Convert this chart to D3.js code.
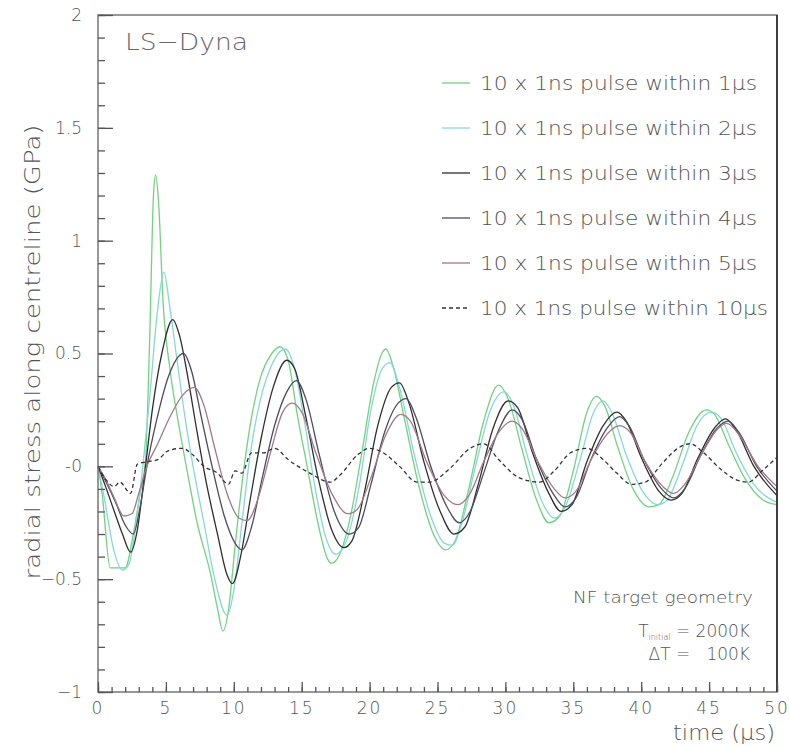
<!DOCTYPE html>
<html>
<head>
<meta charset="utf-8">
<script src="https://cdn.jsdelivr.net/npm/d3@7"></script>
<style>
  body { margin: 0; background: #fff; }
  text { font-family: "DejaVu Sans", "Liberation Sans", sans-serif; font-weight: 200; fill: #555; }
</style>
</head>
<body>
<div id="chart"></div>
<script>
// data: [time (us), radial stress (GPa)]
var pulse1us = [[0,0],[0.3,-0.12],[0.9,-0.45],[2.0,-0.45],[2.6,-0.3],[3.1,-0.12],[3.5,0.03],[3.8,0.55],[4.1,1.22],[4.25,1.29],[4.45,1.18],[4.8,0.72],[5.3,0.43],[5.9,0.2],[6.5,0.0],[7.3,-0.25],[8.3,-0.48],[8.8,-0.63],[9.2,-0.73],[9.6,-0.64],[10.1,-0.35],[10.7,-0.03],[11.2,0.18],[11.9,0.38],[12.8,0.5],[13.4,0.53],[14.0,0.47],[14.7,0.22],[15.4,0.0],[16.3,-0.28],[16.9,-0.41],[17.2,-0.43],[17.8,-0.39],[18.6,-0.22],[19.4,0.05],[20.3,0.37],[20.9,0.5],[21.2,0.52],[21.7,0.45],[22.6,0.2],[23.6,-0.08],[24.7,-0.3],[25.6,-0.37],[26.3,-0.33],[27.3,-0.1],[28.4,0.2],[29.5,0.36],[30.2,0.3],[31.2,0.08],[32.3,-0.15],[33.2,-0.25],[34.0,-0.22],[35.0,-0.02],[36.0,0.24],[36.7,0.31],[37.3,0.27],[38.3,0.08],[39.4,-0.1],[40.6,-0.18],[41.3,-0.17],[42.3,-0.05],[43.5,0.15],[44.8,0.25],[45.4,0.23],[46.4,0.1],[47.6,-0.05],[49.0,-0.15],[50,-0.17]];

var pulse2us = [[0,0],[0.4,-0.12],[1.2,-0.38],[1.8,-0.46],[2.3,-0.43],[2.8,-0.25],[3.3,0.0],[3.8,0.3],[4.4,0.7],[4.85,0.86],[5.3,0.7],[5.8,0.48],[6.4,0.22],[7.0,0.0],[7.8,-0.25],[8.6,-0.5],[9.5,-0.66],[10.0,-0.55],[10.6,-0.25],[11.2,0.05],[11.9,0.28],[12.8,0.45],[13.8,0.52],[14.4,0.45],[15.2,0.2],[16.0,-0.1],[16.8,-0.32],[17.5,-0.39],[18.3,-0.33],[19.2,-0.1],[20.1,0.25],[20.9,0.43],[21.5,0.46],[22.2,0.35],[23.3,0.05],[24.5,-0.22],[25.5,-0.34],[26.1,-0.35],[26.8,-0.25],[27.8,0.0],[28.9,0.25],[29.9,0.33],[30.6,0.27],[31.6,0.05],[32.8,-0.17],[33.6,-0.23],[34.4,-0.18],[35.5,0.03],[36.5,0.24],[37.2,0.29],[37.9,0.23],[38.9,0.05],[40.0,-0.1],[41.2,-0.17],[41.9,-0.15],[43.0,0.0],[44.1,0.18],[45.2,0.24],[45.9,0.21],[47.0,0.06],[48.3,-0.08],[50,-0.16]];

var pulse3us = [[0,0],[0.5,-0.08],[1.2,-0.2],[1.8,-0.3],[2.4,-0.38],[2.9,-0.28],[3.4,-0.05],[4.0,0.25],[4.7,0.5],[5.5,0.65],[6.0,0.58],[6.6,0.4],[7.3,0.15],[8.0,-0.08],[8.8,-0.3],[9.5,-0.48],[9.9,-0.52],[10.5,-0.4],[11.2,-0.15],[12.0,0.12],[12.9,0.35],[13.9,0.47],[14.5,0.43],[15.3,0.22],[16.2,-0.05],[17.2,-0.28],[18.1,-0.36],[18.7,-0.33],[19.6,-0.12],[20.6,0.18],[21.6,0.35],[22.2,0.37],[22.9,0.28],[24.0,0.02],[25.2,-0.2],[26.2,-0.3],[27.0,-0.27],[28.0,-0.08],[29.1,0.17],[30.2,0.29],[30.9,0.26],[32.0,0.06],[33.2,-0.12],[34.1,-0.2],[34.9,-0.17],[36.0,0.02],[37.2,0.18],[38.2,0.24],[38.9,0.2],[40.0,0.04],[41.3,-0.11],[42.2,-0.15],[43.0,-0.12],[44.2,0.04],[45.4,0.17],[46.2,0.21],[47.0,0.16],[48.3,0.0],[50,-0.13]];

var pulse4us = [[0,0],[0.6,-0.07],[1.3,-0.16],[2.0,-0.26],[2.6,-0.3],[3.1,-0.18],[3.6,0.0],[4.3,0.2],[5.2,0.4],[6.3,0.5],[6.9,0.42],[7.6,0.22],[8.4,0.0],[9.3,-0.22],[10.2,-0.35],[10.6,-0.37],[11.3,-0.27],[12.1,-0.05],[13.0,0.18],[13.9,0.33],[14.6,0.38],[15.3,0.3],[16.3,0.05],[17.4,-0.2],[18.5,-0.3],[19.2,-0.27],[20.1,-0.08],[21.1,0.15],[22.1,0.28],[22.7,0.3],[23.4,0.22],[24.5,0.0],[25.7,-0.18],[26.6,-0.25],[27.4,-0.2],[28.4,-0.03],[29.5,0.16],[30.5,0.25],[31.2,0.21],[32.3,0.03],[33.5,-0.12],[34.4,-0.18],[35.2,-0.14],[36.3,0.03],[37.5,0.17],[38.4,0.22],[39.1,0.18],[40.2,0.03],[41.5,-0.1],[42.4,-0.14],[43.2,-0.1],[44.4,0.05],[45.6,0.17],[46.4,0.2],[47.2,0.15],[48.5,0.0],[50,-0.11]];

var pulse5us = [[0,0],[0.5,-0.05],[1.2,-0.14],[1.9,-0.22],[2.5,-0.21],[3.0,-0.12],[3.6,0.0],[4.4,0.1],[5.3,0.22],[6.3,0.32],[7.1,0.35],[7.8,0.27],[8.6,0.08],[9.5,-0.12],[10.4,-0.23],[11.0,-0.24],[11.8,-0.14],[12.7,0.06],[13.6,0.24],[14.3,0.28],[15.0,0.24],[16.1,0.05],[17.3,-0.13],[18.4,-0.21],[19.1,-0.19],[20.1,-0.05],[21.2,0.14],[22.3,0.23],[23.0,0.2],[24.2,0.02],[25.5,-0.13],[26.5,-0.17],[27.3,-0.13],[28.4,0.02],[29.5,0.15],[30.5,0.2],[31.2,0.17],[32.4,0.02],[33.6,-0.1],[34.4,-0.14],[35.2,-0.11],[36.4,0.04],[37.6,0.15],[38.4,0.18],[39.2,0.15],[40.3,0.02],[41.6,-0.09],[42.4,-0.12],[43.2,-0.08],[44.5,0.06],[45.7,0.17],[46.3,0.19],[47.2,0.14],[48.6,0.0],[50,-0.09]];

var pulse10us = [[0,0],[0.6,-0.06],[1.2,-0.09],[1.6,-0.07],[2.4,-0.12],[2.9,0.01],[3.6,0.02],[4.4,0.03],[5.2,0.07],[6.2,0.08],[7.0,0.05],[7.8,0.0],[8.8,-0.03],[9.6,-0.08],[10.1,-0.02],[10.6,-0.03],[11.3,0.06],[12.2,0.06],[13.0,0.08],[14.0,0.03],[15.6,-0.03],[17.1,-0.07],[17.8,-0.04],[19.1,0.05],[20.0,0.08],[21.0,0.06],[22.2,0.0],[23.5,-0.07],[24.4,-0.07],[25.9,-0.01],[27.4,0.08],[28.4,0.1],[29.5,0.03],[31.0,-0.05],[32.5,-0.07],[33.6,-0.02],[34.8,0.06],[36.0,0.08],[37.2,0.03],[38.2,-0.03],[39.3,-0.08],[40.3,-0.07],[41.5,0.01],[42.7,0.08],[43.6,0.1],[44.6,0.06],[45.8,-0.01],[47.0,-0.06],[47.9,-0.07],[48.9,-0.02],[50,0.04]];

var seriesNames = ["10 x 1ns pulse within 1\u00b5s", "10 x 1ns pulse within 2\u00b5s", "10 x 1ns pulse within 3\u00b5s",
  "10 x 1ns pulse within 4\u00b5s", "10 x 1ns pulse within 5\u00b5s", "10 x 1ns pulse within 10\u00b5s"];
var seriesData = [pulse1us, pulse2us, pulse3us, pulse4us, pulse5us, pulse10us];
var seriesColors = ["#72d27e", "#86d8d8", "#2e2e2e", "#4c4c60", "#a57884", "#333"];

var yTickValues = [-1, -0.5, 0, 0.5, 1, 1.5, 2];
var yTickLabels = ["\u22121", "\u22120.5", "-0", "0.5", "1", "1.5", "2"];
var xTickValues = [0, 5, 10, 15, 20, 25, 30, 35, 40, 45, 50];

var svgWidth = 790;
var svgHeight = 746;

var margin = { top: 15, right: 13, bottom: 54, left: 98 };
var width = svgWidth - margin.left - margin.right;
var height = svgHeight - margin.top - margin.bottom;

var svg = d3.select("#chart")
  .append("svg")
  .attr("width", svgWidth)
  .attr("height", svgHeight);

var chartGroup = svg.append("g")
  .attr("transform", `translate(${margin.left}, ${margin.top})`);

var xScale = d3.scaleLinear().domain([0, 50]).range([0, width]);
var yScale = d3.scaleLinear().domain([-1, 2]).range([height, 0]);

// curves
var line = d3.line()
  .x(d => xScale(d[0]))
  .y(d => yScale(d[1]))
  .curve(d3.curveMonotoneX);

chartGroup.selectAll(".series")
  .data(seriesData)
  .enter()
  .append("path")
  .attr("class", "series")
  .attr("d", line)
  .attr("fill", "none")
  .attr("stroke", (d, i) => seriesColors[i])
  .attr("stroke-width", 1.3)
  .attr("stroke-dasharray", (d, i) => i === 5 ? "4,3" : null);

// frame
chartGroup.append("rect")
  .attr("width", width)
  .attr("height", height)
  .attr("fill", "none")
  .attr("stroke", "#777")
  .attr("stroke-width", 1.5);

chartGroup.append("line")
  .attr("x1", width).attr("x2", width)
  .attr("y1", 0).attr("y2", height)
  .attr("stroke", "#222")
  .attr("stroke-width", 1.5);

// y axis: ticks point inward
var leftAxis = d3.axisRight(yScale)
  .tickValues(d3.range(-1, 2.001, 0.1))
  .tickSize(7)
  .tickFormat("");
chartGroup.append("g").call(leftAxis);

var leftMajor = d3.axisRight(yScale)
  .tickValues(yTickValues)
  .tickSize(15)
  .tickFormat("");
chartGroup.append("g").call(leftMajor);

// x axis: ticks point up
var bottomMinor = d3.axisTop(xScale)
  .tickValues(d3.range(0, 51, 1))
  .tickSize(5)
  .tickFormat("");
chartGroup.append("g")
  .attr("transform", `translate(0, ${height})`)
  .call(bottomMinor);

var bottomMajor = d3.axisTop(xScale)
  .tickValues(xTickValues)
  .tickSize(10)
  .tickFormat("");
chartGroup.append("g")
  .attr("transform", `translate(0, ${height})`)
  .call(bottomMajor);

chartGroup.selectAll(".domain").remove();
chartGroup.selectAll(".tick line").attr("stroke", "#555").attr("stroke-width", 1.3);

// tick labels
chartGroup.selectAll(".ylab")
  .data(yTickValues)
  .enter()
  .append("text")
  .attr("class", "ylab")
  .attr("x", -16)
  .attr("y", d => yScale(d))
  .attr("dy", "0.35em")
  .attr("text-anchor", "end")
  .style("font-size", "17px")
  .text((d, i) => yTickLabels[i]);

chartGroup.selectAll(".xlab")
  .data(xTickValues)
  .enter()
  .append("text")
  .attr("class", "xlab")
  .attr("x", d => xScale(d))
  .attr("y", height + 22)
  .attr("text-anchor", "middle")
  .style("font-size", "17px")
  .style("letter-spacing", "2px")
  .text(d => d);

// axis titles
chartGroup.append("text")
  .attr("transform", "rotate(-90)")
  .attr("x", -337)
  .attr("y", -58)
  .attr("text-anchor", "middle")
  .attr("textLength", 455)
  .attr("lengthAdjust", "spacingAndGlyphs")
  .style("font-size", "22px")
  .text("radial stress along centreline (GPa)");

chartGroup.append("text")
  .attr("x", width - 2)
  .attr("y", height + 48)
  .attr("text-anchor", "end")
  .attr("textLength", 102)
  .attr("lengthAdjust", "spacingAndGlyphs")
  .style("font-size", "22px")
  .text("time (\u00b5s)");

// title inside frame
chartGroup.append("text")
  .attr("x", 27)
  .attr("y", 35)
  .attr("textLength", 123)
  .attr("lengthAdjust", "spacingAndGlyphs")
  .style("font-size", "23px")
  .style("fill", "#666")
  .text("LS\u2212Dyna");

// legend
var legend = chartGroup.selectAll(".legend")
  .data(seriesNames)
  .enter()
  .append("g")
  .attr("class", "legend")
  .attr("transform", (d, i) => `translate(344, ${68 + i * 45})`);

legend.append("line")
  .attr("x1", 0).attr("x2", 28)
  .attr("stroke", (d, i) => seriesColors[i])
  .attr("stroke-width", 1.3)
  .attr("stroke-dasharray", (d, i) => i === 5 ? "4,3" : null);

legend.append("text")
  .attr("x", 38)
  .attr("dy", "0.35em")
  .attr("textLength", (d, i) => i === 5 ? 288 : 277)
  .attr("lengthAdjust", "spacingAndGlyphs")
  .style("font-size", "19px")
  .text(d => d);

// notes, lower right
chartGroup.append("text")
  .attr("x", 655)
  .attr("y", 588)
  .attr("text-anchor", "end")
  .attr("textLength", 180)
  .attr("lengthAdjust", "spacingAndGlyphs")
  .style("font-size", "16px")
  .text("NF target geometry");

var tInit = chartGroup.append("text")
  .attr("x", 652)
  .attr("y", 622)
  .attr("text-anchor", "end")
  .style("font-size", "17px");
tInit.append("tspan").text("T");
tInit.append("tspan").attr("dy", 3).style("font-size", "8px").text("initial");
tInit.append("tspan").attr("dy", -3).text(" = 2000K");

chartGroup.append("text")
  .attr("x", 652)
  .attr("y", 645)
  .attr("text-anchor", "end")
  .style("font-size", "17px")
  .style("white-space", "pre")
  .text("\u0394T =   100K");
</script>
</body>
</html>
